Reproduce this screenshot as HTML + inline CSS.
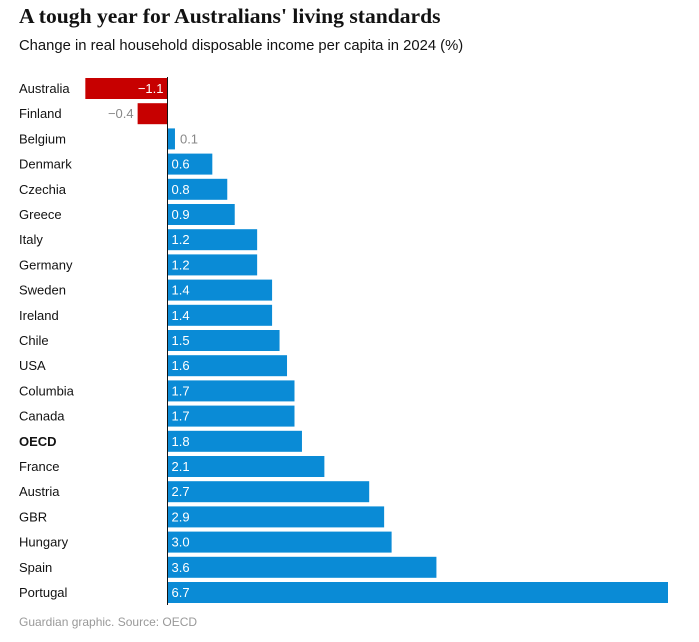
<!DOCTYPE html>
<html><head><meta charset="utf-8"><style>
body{margin:0;background:#fff;width:699px;height:642px;overflow:hidden}
svg{display:block}
</style></head><body>
<svg id="chart" width="699" height="642">
<text x="19" y="23" font-family="Liberation Serif, serif" font-weight="bold" font-size="21.6" fill="#121212">A tough year for Australians' living standards</text>
<text x="19" y="50" font-family="Liberation Sans, sans-serif" font-size="14.8" fill="#121212">Change in real household disposable income per capita in 2024 (%)</text>
<g id="bars"></g>
<line x1="167.5" x2="167.5" y1="77" y2="605" stroke="#121212" stroke-width="1"/>
<text x="19" y="626" font-family="Liberation Sans, sans-serif" font-size="12" fill="#999">Guardian graphic. Source: OECD</text>
</svg>
<script>
const categories=["Australia","Finland","Belgium","Denmark","Czechia","Greece","Italy","Germany","Sweden","Ireland","Chile","USA","Columbia","Canada","OECD","France","Austria","GBR","Hungary","Spain","Portugal"];
const values=[-1.1,-0.4,0.1,0.6,0.8,0.9,1.2,1.2,1.4,1.4,1.5,1.6,1.7,1.7,1.8,2.1,2.7,2.9,3.0,3.6,6.7];
const labels=["−1.1","−0.4","0.1","0.6","0.8","0.9","1.2","1.2","1.4","1.4","1.5","1.6","1.7","1.7","1.8","2.1","2.7","2.9","3.0","3.6","6.7"];
const x0=167.5, scaleX=(668-167.5)/6.7, topY=78, step=25.2, bh=21;
const xs=v=>x0+v*scaleX;
const g=document.getElementById('bars');
const NS="http://www.w3.org/2000/svg";
categories.forEach((c,i)=>{
  const v=values[i], y=topY+i*step;
  const t=document.createElementNS(NS,'text');
  
  
  t.setAttribute('x',19);t.setAttribute('y',y+15);
  t.setAttribute('font-family','Liberation Sans, sans-serif');t.setAttribute('font-size','13');
  t.setAttribute('fill','#121212');
  if(c==="OECD")t.setAttribute('font-weight','bold');
  t.textContent=c;g.appendChild(t);
  const r=document.createElementNS(NS,'rect');
  
  
  const x1=Math.min(xs(0),xs(v)),w=Math.abs(xs(v)-xs(0));
  r.setAttribute('x',x1);r.setAttribute('y',y);r.setAttribute('width',w);r.setAttribute('height',bh);
  r.setAttribute('fill',v<0?'#c70000':'#0a8bd6');g.appendChild(r);
  const l=document.createElementNS(NS,'text');
  
  
  l.setAttribute('font-family','Liberation Sans, sans-serif');l.setAttribute('font-size','13');
  l.setAttribute('y',y+15);
  const inside=w>30;
  if(v<0){
    if(inside){l.setAttribute('x',x1+w-4);l.setAttribute('text-anchor','end');l.setAttribute('fill','#fff');}
    else{l.setAttribute('x',x1-4);l.setAttribute('text-anchor','end');l.setAttribute('fill','#888');}
  }else{
    if(inside){l.setAttribute('x',x1+4);l.setAttribute('fill','#fff');}
    else{l.setAttribute('x',x1+w+5);l.setAttribute('fill','#888');}
  }
  l.textContent=labels[i];g.appendChild(l);
});
</script>
</body></html>
